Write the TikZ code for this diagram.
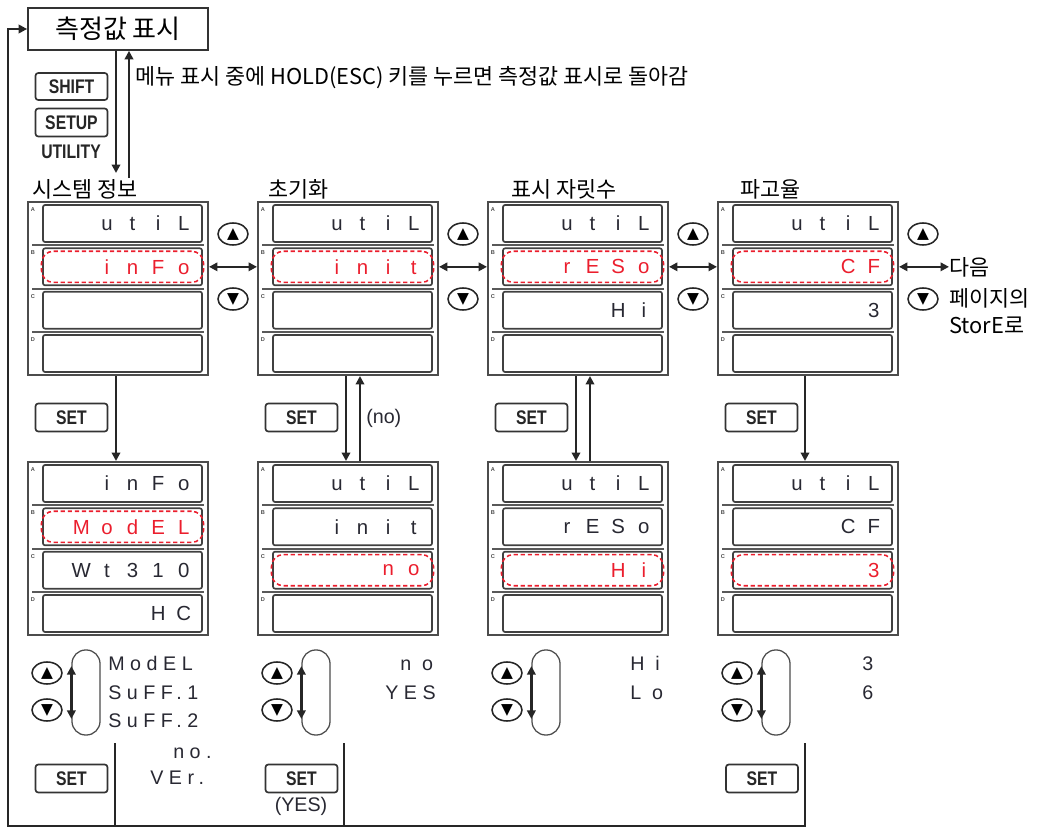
\documentclass[tikz,border=0pt]{standalone}
\usepackage{fontspec}
\usepackage{tikz}
\usetikzlibrary{arrows.meta,positioning,shapes.geometric}
\newfontfamily\kr{Noto Sans CJK KR}
\newfontfamily\segfont{Liberation Sans}
\newfontfamily\listfont{Liberation Sans}[LetterSpace=28]
\newfontfamily\keyfont{Liberation Sans}[FakeStretch=0.8]
\newfontfamily\symfont{DejaVu Sans}
\definecolor{segtext}{RGB}{40,40,50}
\definecolor{hlred}{RGB}{235,30,45}
\newcommand{\dg}[1]{\makebox[0.64cm]{#1}}

\begin{document}
\begin{tikzpicture}[x=0.025cm,y=-0.025cm,
  panel/.style={draw=black!70, line width=1.4pt, minimum width=4.5cm, minimum height=4.325cm, inner sep=0},
  rowbox/.style={draw=black!75, line width=1.2pt, rounded corners=1.5pt,
                 minimum width=3.975cm, minimum height=0.925cm, inner sep=0},
  sepline/.style={draw=black!65, line width=1.5pt},
  tag/.style={font=\segfont\bfseries\fontsize{4}{4}\selectfont, text=black!70, inner sep=0},
  hl/.style={draw=hlred, dash pattern=on 3pt off 2pt, line width=1.1pt, rounded corners=0.3cm,
             minimum width=4.05cm, minimum height=0.78cm, inner sep=0},
  seg/.style={font=\segfont\fontsize{14.5}{16}\selectfont, text=segtext, anchor=east, inner sep=0},
  lst/.style={font=\listfont\fontsize{14}{16}\selectfont, text=segtext, anchor=base west, inner sep=0},
  lbl/.style={font=\kr\fontsize{15.5}{18}\selectfont, anchor=base west, inner sep=0},
  keycap/.style={draw=black!80, line width=1.2pt, rounded corners=2pt, minimum width=1.8cm,
                 minimum height=0.7cm, inner sep=0, text=black!85,
                 font=\keyfont\bfseries\fontsize{14}{14}\selectfont},
  btn/.style={ellipse, draw=black!85, line width=1.1pt, minimum width=0.75cm, minimum height=0.55cm,
              inner sep=0, font=\symfont\fontsize{11}{11}\selectfont},
  loopbox/.style={draw=black!70, line width=0.9pt, rounded corners=0.34cm, minimum width=0.7cm,
                  minimum height=2.125cm, inner sep=0},
  arr/.style={-{Triangle[length=6pt,width=6pt]}, line width=1.7pt, draw=black!85},
  darr/.style={{Triangle[length=6pt,width=6pt]}-{Triangle[length=6pt,width=6pt]}, line width=1.7pt, draw=black!85},
  wire/.style={line width=1.7pt, draw=black!85}
]
\useasboundingbox (0,0) rectangle (1039,828);

\node[draw=black!80, line width=1.2pt, minimum width=4.5cm, minimum height=1.05cm,
      font=\kr\fontsize{18.5}{20}\selectfont] (main) at (118,29) {측정값 표시};
\node[lbl] (hint) at (135,85) {메뉴 표시 중에 HOLD(ESC) 키를 누르면 측정값 표시로 돌아감};
\node[keycap, minimum height=0.675cm] (shift) at (71.5,86.5) {SHIFT};
\node[keycap] (setup) at (71.5,122.5) {SETUP};
\node[font=\keyfont\bfseries\fontsize{14}{14}\selectfont, text=black!85, inner sep=0] (utility) at (71,152) {UTILITY};

\coordinate (menuIn) at (116,173);
\coordinate (menuOut) at (129,178);
\draw[arr] (main.south -| menuIn) -- (menuIn);
\draw[arr] (menuOut) -- (main.south -| menuOut);

\node[lbl] at (32,197) {시스템 정보};
\node[lbl] at (268,197) {초기화};
\node[lbl] at (511,197) {표시 자릿수};
\node[lbl] at (740,197) {파고율};

\foreach \n/\cx/\cy in {info/118/288.5, init/348/288.5, reso/578/288.5, cf/808/288.5,
                        model/118/548.5, initno/348/548.5, resohi/578/548.5, cfval/808/548.5}{
  \node[panel] (\n) at (\cx,\cy) {};
  \foreach \r/\l in {0/A,1/B,2/C,3/D}{
    \node[rowbox] (\n-\l) at (\cx+4.5,\cy-65+43.33*\r) {};
    \node[tag] at (\cx-85,\cy-79+43.33*\r) {\l};
  }
  \foreach \r in {1,2,3}
    \draw[sepline] (\cx-86,\cy-86.5+43.33*\r) -- (\cx+86,\cy-86.5+43.33*\r);
}

\foreach \h in {info-B,init-B,reso-B,cf-B,model-B,initno-C,resohi-C,cfval-C}
  \node[hl] at (\h) {};

\foreach \n in {info,init,reso,cf,initno,resohi,cfval}
  \node[seg] at ([xshift=-0.15cm]\n-A.east) {\dg{u}\dg{t}\dg{i}\dg{L}};

\node[seg, text=hlred] at ([xshift=-0.15cm]info-B.east) {\dg{i}\dg{n}\dg{F}\dg{o}};
\node[seg, text=hlred] at ([xshift=-0.15cm]init-B.east) {\dg{i}\dg{n}\dg{i}\dg{t}};
\node[seg, text=hlred] at ([xshift=-0.15cm]reso-B.east) {\dg{r}\dg{E}\dg{S}\dg{o}};
\node[seg] at ([xshift=-0.15cm]reso-C.east) {\dg{H}\dg{i}};
\node[seg, text=hlred] at ([xshift=-0.15cm]cf-B.east) {\dg{C}\dg{F}};
\node[seg] at ([xshift=-0.15cm]cf-C.east) {\dg{3}};

\node[seg] at ([xshift=-0.15cm]model-A.east) {\dg{i}\dg{n}\dg{F}\dg{o}};
\node[seg, text=hlred] at ([xshift=-0.15cm]model-B.east) {\dg{M}\dg{o}\dg{d}\dg{E}\dg{L}};
\node[seg] at ([xshift=-0.15cm]model-C.east) {\dg{W}\dg{t}\dg{3}\dg{1}\dg{0}};
\node[seg] at ([xshift=-0.15cm]model-D.east) {\dg{H}\dg{C}};
\node[seg] at ([xshift=-0.15cm]initno-B.east) {\dg{i}\dg{n}\dg{i}\dg{t}};
\node[seg, text=hlred] at ([xshift=-0.15cm]initno-C.east) {\dg{n}\dg{o}};
\node[seg] at ([xshift=-0.15cm]resohi-B.east) {\dg{r}\dg{E}\dg{S}\dg{o}};
\node[seg, text=hlred] at ([xshift=-0.15cm]resohi-C.east) {\dg{H}\dg{i}};
\node[seg] at ([xshift=-0.15cm]cfval-B.east) {\dg{C}\dg{F}};
\node[seg, text=hlred] at ([xshift=-0.15cm]cfval-C.east) {\dg{3}};

\foreach \k/\x in {1/233,2/463,3/693,4/923}{
  \node[btn] (up\k) at (\x,234) {▲};
  \node[btn] (dn\k) at (\x,299) {▼};
}
\node[lbl] (next1) at (949,275) {다음};
\node[lbl] (next2) at (949,306) {페이지의};
\node[lbl] (next3) at (949,333) {StorE로};

\draw[darr] (info-B -| info.east) -- (info-B -| init.west);
\draw[darr] (init-B -| init.east) -- (init-B -| reso.west);
\draw[darr] (reso-B -| reso.east) -- (reso-B -| cf.west);
\draw[darr] (cf-B -| cf.east) -- (cf-B -| next1.west);

\draw[arr] ([xshift=-0.05cm]info.south) -- ([xshift=-0.05cm]model.north);
\draw[arr] ([xshift=-0.05cm]init.south) -- ([xshift=-0.05cm]initno.north);
\draw[arr] ([xshift=0.3cm]initno.north) -- ([xshift=0.3cm]init.south);
\draw[arr] ([xshift=-0.05cm]reso.south) -- ([xshift=-0.05cm]resohi.north);
\draw[arr] ([xshift=0.3cm]resohi.north) -- ([xshift=0.3cm]reso.south);
\draw[arr] ([xshift=-0.075cm]cf.south) -- ([xshift=-0.075cm]cfval.north);

\node[keycap] (set1) at (71.5,417.5) {SET};
\node[keycap] (set2) at (301.5,417.5) {SET};
\node[keycap] (set3) at (531.5,417.5) {SET};
\node[keycap] (set4) at (761.5,417.5) {SET};
\node[font=\segfont\fontsize{14}{16}\selectfont, text=segtext, anchor=west, inner sep=0] at (366,418) {(no)};

\foreach \k/\px in {1/28,2/258,3/488,4/718}{
  \node[btn] (lup\k) at (\px+19,673) {▲};
  \node[btn] (ldn\k) at (\px+19,710) {▼};
  \node[loopbox] (loop\k) at (\px+58,692.5) {};
  \draw[darr] ([yshift=0.66cm]loop\k.west) -- ([yshift=-0.66cm]loop\k.west);
}

\node[lst] at (108,670.5) {ModEL};
\node[lst] at (108,699) {SuFF.1};
\node[lst] at (108,727.5) {SuFF.2};
\node[lst] at (173,758) {no.};
\node[lst] at (150,784.5) {VEr.};
\node[lst] at (400,670.5) {n o};
\node[lst] at (385,699) {YES};
\node[lst] at (630,670.5) {H i};
\node[lst] at (630,699) {L o};
\node[lst] at (862,670.5) {3};
\node[lst] at (862,699) {6};

\node[keycap] (bset1) at (71.5,778.5) {SET};
\node[keycap] (bset2) at (301.5,778.5) {SET};
\node[keycap] (bset4) at (762,778.5) {SET};
\node[font=\segfont\fontsize{14}{16}\selectfont, text=segtext, inner sep=0] at (301,806) {(YES)};

\coordinate (ret1) at (115,743);
\coordinate (ret2) at (344,743);
\coordinate (ret4) at (805,743);
\coordinate (bot) at (8,826);
\draw[arr] (ret4) |- (bot) |- (main.west);
\draw[wire] (ret1) -- (ret1 |- bot);
\draw[wire] (ret2) -- (ret2 |- bot);
\end{tikzpicture}
\end{document}
